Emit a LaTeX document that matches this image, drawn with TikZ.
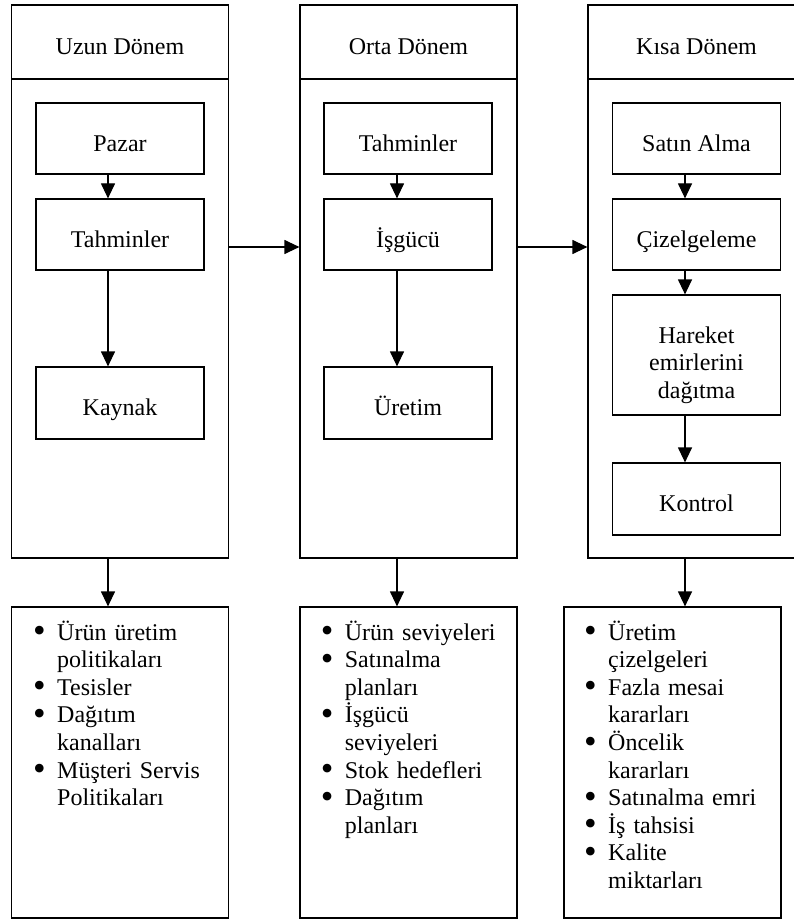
\documentclass[tikz,border=0pt]{standalone}
\usepackage{fontspec}
\setmainfont{Liberation Serif}
\usetikzlibrary{arrows.meta}

% one bullet entry with a hanging indent for its wrapped lines
\newcommand{\bitem}[1]{\hangindent=24pt\hangafter=1\noindent
  \makebox[24pt][l]{\smash{\raisebox{-2.6pt}{\scalebox{1.5}{\textbullet}}}}#1\par}

\tikzset{
  frame/.style={draw, line width=1.2pt, rectangle, inner sep=0pt},
  txt/.style={font=\fontsize{24}{27.6}\selectfont},
  headbox/.style={frame, txt, minimum width=217pt, minimum height=74pt,
    text height=25.4pt, text depth=0pt},
  bodybox/.style={frame, minimum width=217pt, minimum height=479pt},
  stepbox/.style={frame, txt, minimum width=168pt, minimum height=71pt,
    text height=25.4pt, text depth=0pt},
  listbox/.style={frame, minimum width=217pt, minimum height=311pt},
  items/.style={txt, anchor=base west, inner sep=0pt, text width=200pt,
    align=left},
  arr/.style={-{Triangle[length=15pt,width=14pt]}, line width=1.2pt},
}

\begin{document}
\begin{tikzpicture}[x=1pt, y=-1pt]
\clip (0,0) rectangle (794,920);
\fill[white] (0,0) rectangle (794,920);

% arrow columns and the level of the horizontal arrows
\coordinate (axL) at (108,0);
\coordinate (axM) at (397,0);
\coordinate (axR) at (685,0);
\coordinate (hy) at (0,247);

% long term
\node[headbox] (headL) at (120,42) {Uzun Dönem};
\node[bodybox] (bodyL) at (120,318.5) {};
\node[stepbox] (pazar) at (120,138.5) {Pazar};
\node[stepbox] (tahL) at (120,234.5) {Tahminler};
\node[stepbox, minimum height=72pt] (kaynak) at (120,403) {Kaynak};

% medium term
\node[headbox] (headM) at (408.5,42) {Orta Dönem};
\node[bodybox] (bodyM) at (408.5,318.5) {};
\node[stepbox] (tahM) at (408,138.5) {Tahminler};
\node[stepbox] (isgucu) at (408,234.5) {İşgücü};
\node[stepbox, minimum height=72pt] (uretim) at (408,403) {Üretim};

% short term
\node[headbox] (headR) at (696.5,42) {Kısa Dönem};
\node[bodybox] (bodyR) at (696.5,318.5) {};
\node[stepbox] (satin) at (696.5,138.5) {Satın Alma};
\node[stepbox] (cizel) at (696.5,234.5) {Çizelgeleme};
\node[stepbox, minimum height=120pt, align=center, text height=87pt,
  text depth=0pt] (hareket) at (696.5,355) {Hareket\\emirlerini\\dağıtma};
\node[stepbox, minimum height=72pt] (kontrol) at (696.5,499) {Kontrol};

% output boxes
\node[listbox] (listL) at (120,762.5) {};
\node[listbox] (listM) at (408.5,762.5) {};
\node[listbox] (listR) at (672.5,762.5) {};

\node[items] (itemsL) at (33,640) {%
  \bitem{Ürün üretim\newline politikaları}%
  \bitem{Tesisler}%
  \bitem{Dağıtım\newline kanalları}%
  \bitem{Müşteri Servis\newline Politikaları}};
\node[items] (itemsM) at (320.7,640) {%
  \bitem{Ürün seviyeleri}%
  \bitem{Satınalma\newline planları}%
  \bitem{İşgücü\newline seviyeleri}%
  \bitem{Stok hedefleri}%
  \bitem{Dağıtım\newline planları}};
\node[items] (itemsR) at (584,640) {%
  \bitem{Üretim\newline çizelgeleri}%
  \bitem{Fazla mesai\newline kararları}%
  \bitem{Öncelik\newline kararları}%
  \bitem{Satınalma emri}%
  \bitem{İş tahsisi}%
  \bitem{Kalite\newline miktarları}};

% connectors inside the columns
\draw[arr] (pazar.south -| axL) -- (tahL.north -| axL);
\draw[arr] (tahL.south -| axL) -- (kaynak.north -| axL);
\draw[arr] (tahM.south -| axM) -- (isgucu.north -| axM);
\draw[arr] (isgucu.south -| axM) -- (uretim.north -| axM);
\draw[arr] (satin.south -| axR) -- (cizel.north -| axR);
\draw[arr] (cizel.south -| axR) -- (hareket.north -| axR);
\draw[arr] (hareket.south -| axR) -- (kontrol.north -| axR);

% connectors between the columns
\draw[arr] (bodyL.east |- hy) -- (bodyM.west |- hy);
\draw[arr] (bodyM.east |- hy) -- (bodyR.west |- hy);

% connectors to the output boxes
\draw[arr] (bodyL.south -| axL) -- (listL.north -| axL);
\draw[arr] (bodyM.south -| axM) -- (listM.north -| axM);
\draw[arr] (bodyR.south -| axR) -- (listR.north -| axR);
\end{tikzpicture}
\end{document}
